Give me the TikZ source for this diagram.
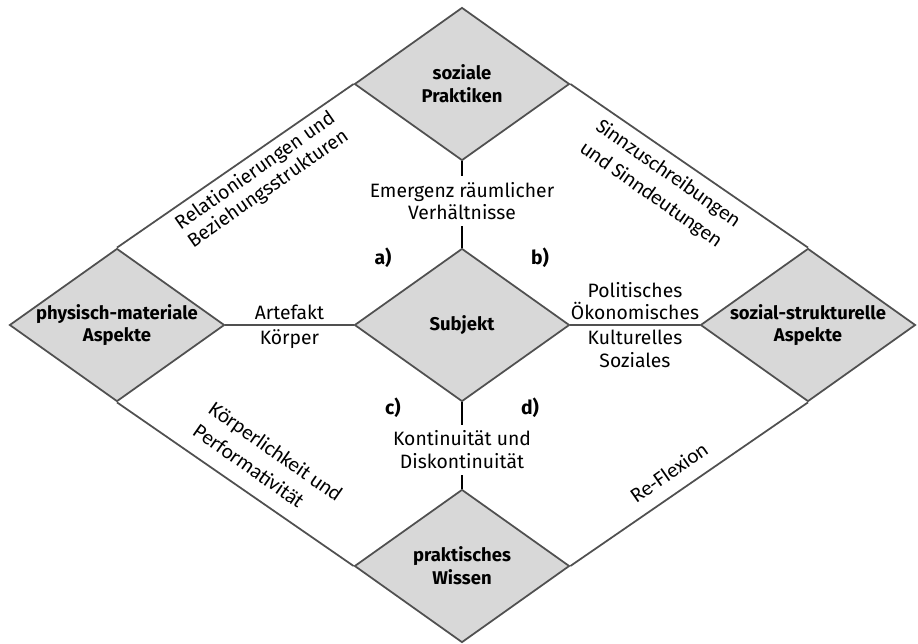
\documentclass[tikz,border=0pt]{standalone}
\usepackage{fontspec}
\setmainfont{Fira Sans}
\newfontfamily\carlitofont{Carlito}
\usepackage{xcolor}
\definecolor{Fill}{RGB}{216,216,216}
\definecolor{Edge}{RGB}{80,80,80}
\definecolor{Black}{RGB}{0,0,0}
\definecolor{White}{RGB}{255,255,255}
\usetikzlibrary{shapes.geometric}

\tikzset{
	corner/.style={diamond, draw=Edge, fill=Fill, line width=1pt, minimum width=4.3cm, minimum height=3.06cm, inner sep=0pt},
	cornertext/.style={align=center, color=Black, font=\fontsize{10.5}{13}\selectfont\bfseries},
	plain/.style={align=center, color=Black, font=\fontsize{11}{13}\selectfont},
	tag/.style={color=Black, font=\fontsize{11}{13}\selectfont\bfseries},
	edgetext/.style={align=left, color=Black, font=\fontsize{11}{12.5}\selectfont},
	edgetextc/.style={align=left, color=Black, font=\carlitofont\fontsize{12}{15.5}\selectfont},
	rim/.style={draw=Edge, line width=1pt},
	link/.style={draw=Edge, line width=0.9pt},
	stem/.style={draw=Black, line width=1pt}
}

\begin{document}
\begin{tikzpicture}
		
		\useasboundingbox (-9.24,-6.36) rectangle (9.12,6.5);
		
		% Diamonds
		\node[corner, label={[cornertext]center:{soziale\\Praktiken}}] (prak) at (0,4.82) {};
		\node[corner, label={[cornertext]center:{physisch-materiale\\Aspekte}}] (phys) at (-6.9,0) {};
		\node[corner, label={[cornertext]center:{sozial-strukturelle\\Aspekte}}] (struk) at (6.92,0) {};
		\node[corner, label={[cornertext]center:{praktisches\\Wissen}}] (wiss) at (0,-4.82) {};
		\node[corner, label={[cornertext]center:{Subjekt}}] (subj) at (0,0) {};
		
		% Outer rim
		\draw[rim] (prak.west) -- (phys.north);
		\draw[rim] (prak.east) -- (struk.north);
		\draw[rim] (phys.south) -- (wiss.west);
		\draw[rim] (struk.south) -- (wiss.east);
		
		% Links to the subject
		\draw[link] (phys.east) -- (subj.west)
			node[plain, midway, above=-1pt] {Artefakt}
			node[plain, midway, below=-1pt] {Körper};
		\draw[link] (subj.east) -- (struk.west)
			node[plain, midway, above=-1pt] {Politisches\\Ökonomisches}
			node[plain, midway, below=-1pt] {Kulturelles\\Soziales};
		\draw[stem] (prak.south) -- (subj.north)
			node[plain, pos=0.46, fill=White] {Emergenz räumlicher\\Verhältnisse};
		\draw[stem] (subj.south) -- (wiss.north)
			node[plain, pos=0.55, fill=White] {Kontinuität und\\Diskontinuität};
		
		% Tags
		\node[tag] (ta) at (-1.58,1.34) {a)};
		\node[tag] (tb) at (1.56,1.34) {b)};
		\node[tag] (tc) at (-1.38,-1.66) {c)};
		\node[tag] (td) at (1.36,-1.66) {d)};
		
		% Texts along the rim
		\node[edgetext, rotate=35] (rel) at (-4.0,2.9) {Relationierungen und\\Beziehungsstrukturen};
		\node[edgetextc, rotate=-35] (sinn) at (3.96,2.8) {Sinnzuschreibungen\\und Sinndeutungen};
		\node[edgetextc, rotate=-35] (koer) at (-3.88,-2.75) {Körperlichkeit und\\Performativität};
		\node[edgetextc, rotate=35] (refl) at (4.14,-2.95) {Re-Flexion};
		
	\end{tikzpicture}
\end{document}
